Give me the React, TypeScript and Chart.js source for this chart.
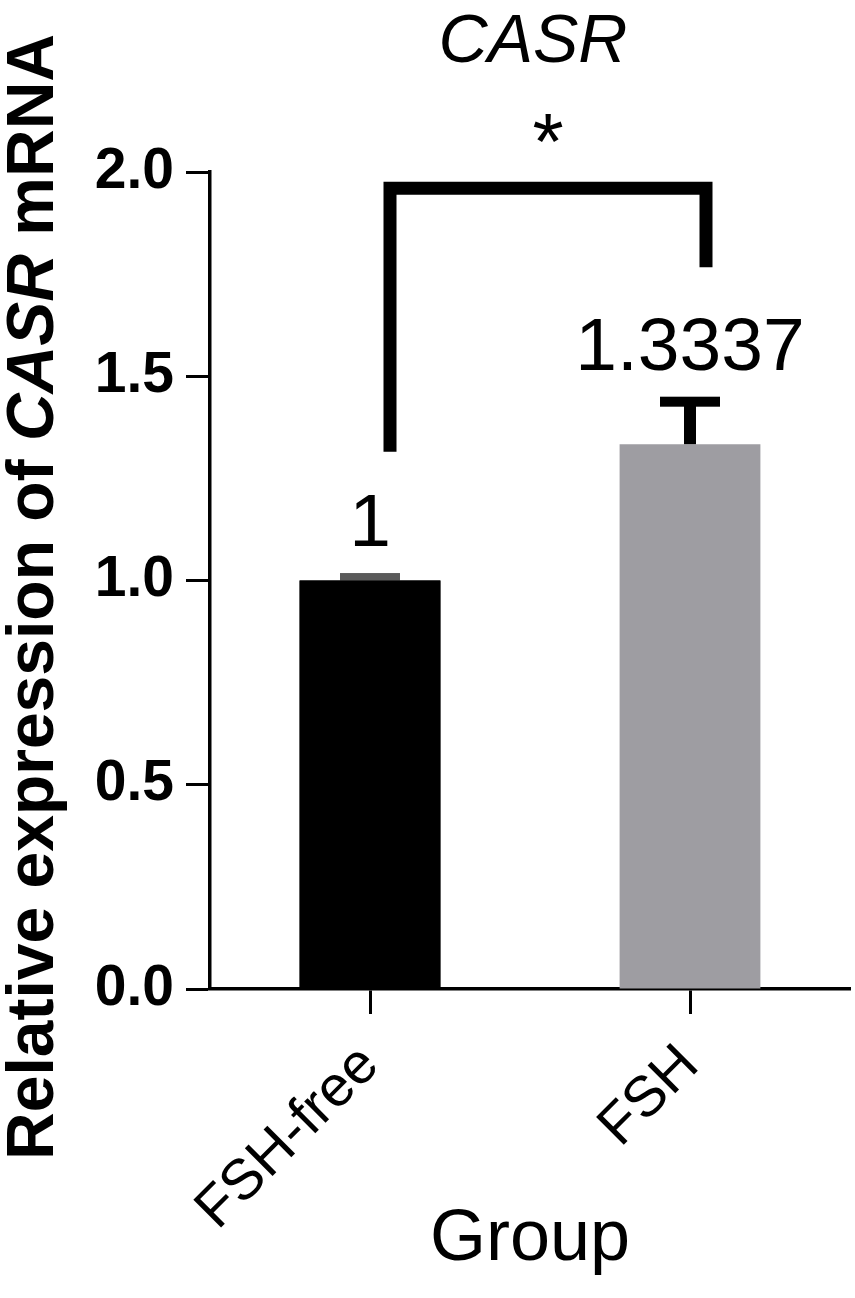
import React, { useEffect, useRef } from 'react';
import { Chart, registerables } from 'chart.js';

Chart.register(...registerables);

// ---- data ----
const categories = ['FSH-free', 'FSH'];
const means = [1, 1.3337];
const sems = [0.006, 0.104];
const valueLabels = ['1', '1.3337'];
const barColors = ['#000000', '#9e9da2'];
const yMin = 0;
const yMax = 2;
const yStep = 0.5;
const bracketTop = 1.96;
const bracketEnds = [1.315, 1.767];
const sigMark = '*';
const chartTitle = 'CASR';
const yTitleParts = [
  { text: 'Relative expression of ', italic: false },
  { text: 'CASR', italic: true },
  { text: ' mRNA', italic: false },
];
const xTitle = 'Group';

const FAMILY = '"Liberation Sans", Arial, Helvetica, sans-serif';
const W = 855;
const H = 1298;

const overlayPlugin = {
  id: 'overlay',
  afterDatasetsDraw(chart: any) {
    const ctx = chart.ctx as CanvasRenderingContext2D;
    const ys = chart.scales.y;
    const meta = chart.getDatasetMeta(0);
    ctx.save();
    ctx.fillStyle = '#000';
    ctx.strokeStyle = '#000';
    const centers: number[] = [];
    meta.data.forEach((bar: any, i: number) => {
      const x = bar.x;
      centers.push(x);
      const top = ys.getPixelForValue(means[i]);
      const et = ys.getPixelForValue(means[i] + sems[i]);
      ctx.fillStyle = i === 0 ? '#5a5a5a' : '#000';
      ctx.fillRect(x - 6, et, 12, top - et);
      ctx.fillRect(x - 30, et - 5, 60, 10);
      ctx.fillStyle = '#000';
      ctx.font = `normal 75px ${FAMILY}`;
      ctx.textAlign = 'center';
      ctx.textBaseline = 'alphabetic';
      ctx.fillText(valueLabels[i], x, et - 32);
    });
    // redraw the black bar over the light cap of the first bar
    const b0: any = meta.data[0];
    ctx.fillStyle = barColors[0];
    ctx.fillRect(b0.x - b0.width / 2, b0.y, b0.width, b0.base - b0.y);
    // significance bracket
    const lx = centers[0] + 20;
    const rx = centers[1] + 16;
    const ty = ys.getPixelForValue(bracketTop);
    ctx.lineWidth = 13;
    ctx.lineJoin = 'miter';
    ctx.lineCap = 'butt';
    ctx.beginPath();
    ctx.moveTo(lx, ys.getPixelForValue(bracketEnds[0]));
    ctx.lineTo(lx, ty);
    ctx.lineTo(rx, ty);
    ctx.lineTo(rx, ys.getPixelForValue(bracketEnds[1]));
    ctx.stroke();
    // star
    ctx.fillStyle = '#000';
    ctx.font = `normal 80px ${FAMILY}`;
    ctx.textAlign = 'center';
    ctx.textBaseline = 'alphabetic';
    const m = ctx.measureText(sigMark);
    const starCenter = ty - 60;
    const base = starCenter + (m.actualBoundingBoxAscent - m.actualBoundingBoxDescent) / 2;
    ctx.fillText(sigMark, (lx + rx) / 2, base);
    ctx.restore();
  },
  afterDraw(chart: any) {
    const ctx = chart.ctx as CanvasRenderingContext2D;
    const area = chart.chartArea;
    ctx.save();
    ctx.fillStyle = '#000';
    // title
    ctx.font = `italic 68px ${FAMILY}`;
    ctx.textAlign = 'center';
    ctx.textBaseline = 'alphabetic';
    ctx.fillText(chartTitle, (area.left + area.right) / 2 + 3, 62);
    // y title with italic gene name
    ctx.translate(53, 597);
    ctx.rotate(-Math.PI / 2);
    ctx.textAlign = 'left';
    const fonts = yTitleParts.map((p) => `${p.italic ? 'italic ' : ''}bold 66px ${FAMILY}`);
    let total = 0;
    const widths = yTitleParts.map((p, i) => {
      ctx.font = fonts[i];
      const w = ctx.measureText(p.text).width;
      total += w;
      return w;
    });
    let x = -total / 2;
    yTitleParts.forEach((p, i) => {
      ctx.font = fonts[i];
      ctx.fillText(p.text, x, 0);
      x += widths[i];
    });
    ctx.restore();
  },
};

export default function App() {
  const ref = useRef<HTMLCanvasElement | null>(null);

  useEffect(() => {
    if (!ref.current) return;
    const chart = new Chart(ref.current, {
      type: 'bar',
      data: {
        labels: categories,
        datasets: [
          {
            data: means,
            backgroundColor: barColors,
            borderWidth: 0,
            barPercentage: 0.44,
            categoryPercentage: 1,
          },
        ],
      },
      options: {
        animation: false,
        responsive: false,
        devicePixelRatio: 1,
        layout: { padding: { left: 0, right: 5, top: 172, bottom: 0 } },
        plugins: {
          legend: { display: false },
          tooltip: { enabled: false },
          title: { display: false },
        },
        scales: {
          x: {
            type: 'category',
            grid: {
              display: true,
              drawOnChartArea: false,
              drawTicks: true,
              offset: false,
              tickLength: 25,
              tickWidth: 3,
              tickColor: '#000',
            },
            border: { display: true, color: '#000', width: 3.5 },
            ticks: {
              color: '#000',
              font: { family: FAMILY, size: 57, weight: 'normal' },
              minRotation: 45,
              maxRotation: 45,
              padding: 18,
            },
            title: {
              display: true,
              text: xTitle,
              color: '#000',
              font: { family: FAMILY, size: 72, weight: 'normal' },
              padding: { top: 0, bottom: 15 },
            },
            afterFit(scale: any) {
              scale.height = H - 989;
            },
          },
          y: {
            min: yMin,
            max: yMax,
            grid: {
              display: true,
              drawOnChartArea: false,
              drawTicks: true,
              tickLength: 24,
              tickWidth: 3,
              tickColor: '#000',
            },
            border: { display: true, color: '#000', width: 3.5 },
            ticks: {
              stepSize: yStep,
              color: '#000',
              font: { family: FAMILY, size: 57, weight: 'bold' },
              padding: 12,
              callback: (v: any) => Number(v).toFixed(1),
            },
            afterFit(scale: any) {
              scale.width = 210;
            },
          },
        },
      },
      plugins: [overlayPlugin],
    });
    return () => chart.destroy();
  }, []);

  return (
    <div style={{ position: 'absolute', left: 0, top: 0, width: W, height: H, background: '#fff' }}>
      <canvas ref={ref} width={W} height={H} style={{ display: 'block', width: W, height: H }} />
    </div>
  );
}
